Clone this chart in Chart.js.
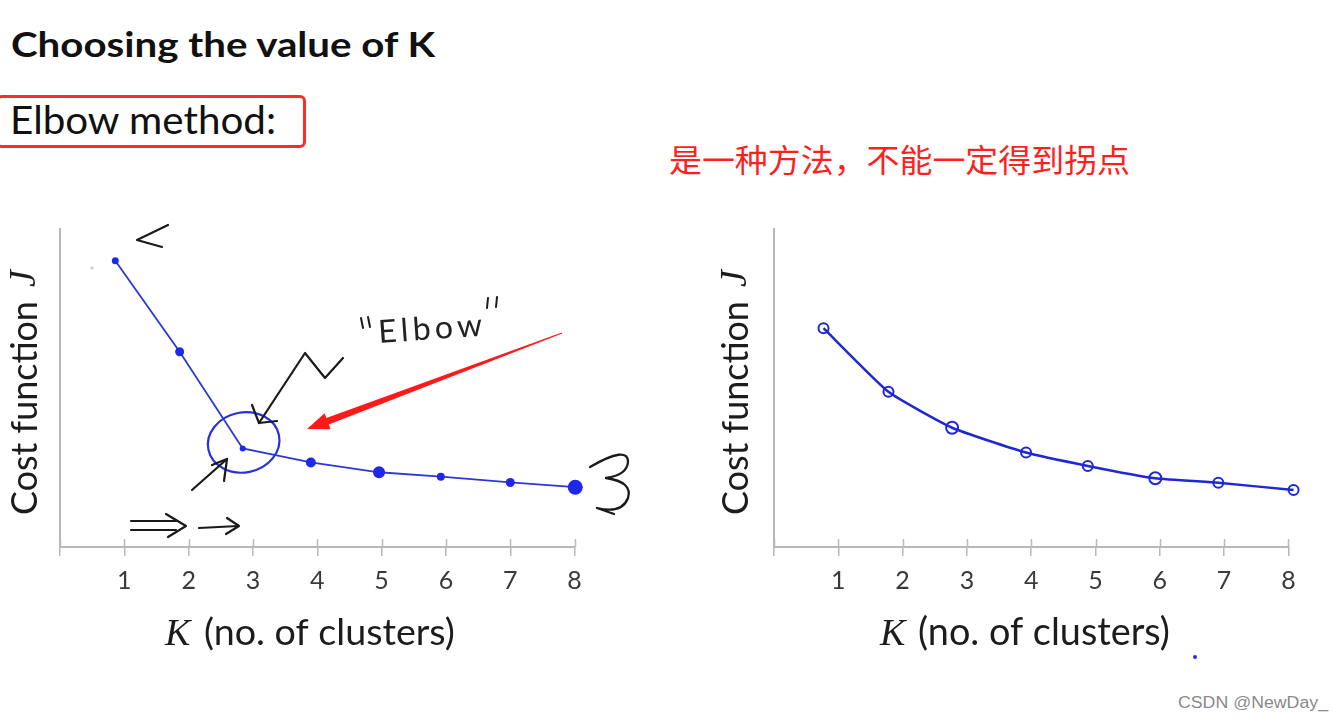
<!DOCTYPE html>
<html><head><meta charset="utf-8">
<script src="https://cdn.jsdelivr.net/npm/chart.js@4.4.1/dist/chart.umd.min.js"></script>
<style>
html,body{margin:0;padding:0;background:#fff;}
body{width:1342px;height:723px;position:relative;overflow:hidden;font-family:Lato,"Open Sans",sans-serif;}
.t{position:absolute;white-space:nowrap;transform-origin:0 0;line-height:1;}
#title{left:11px;top:26px;font-weight:bold;font-size:35px;color:#111;}
#method{left:10px;top:100px;font-size:39px;color:#111;}
#box{position:absolute;left:-4px;top:95px;width:310px;height:53px;border:3px solid #ff2b2b;border-radius:6px;box-sizing:border-box;}
#cn{left:669px;top:142px;font-size:32px;color:#ff1f1f;font-family:"Noto Sans CJK SC",sans-serif;}
#csdn{left:1178px;top:695px;font-size:16px;color:#8a8a8a;font-family:"Liberation Sans",Arial,sans-serif;}
canvas{position:absolute;}
#c1{left:0;top:200px;}
#c2{left:690px;top:200px;}
</style></head>
<body>
<div id="title" class="t" data-w="424">Choosing the value of K</div>
<div id="box"></div>
<div id="method" class="t" data-w="266">Elbow method:</div>
<div id="cn" class="t" data-w="461">是一种方法，不能一定得到拐点</div>
<div id="csdn" class="t" data-w="150">CSDN @NewDay_</div>
<canvas id="c1" width="670" height="470"></canvas>
<canvas id="c2" width="652" height="470"></canvas>
<script>
// ---- data ----
const kTickLabels = ['1','2','3','4','5','6','7','8'];
const leftK  = [0.86, 1.86, 2.84, 3.90, 4.96, 5.92, 7.00, 8.01];
const leftJ  = [90.0, 61.4, 31.0, 26.6, 23.5, 22.1, 20.3, 18.8];
const rightK = [0.77, 1.78, 2.77, 3.92, 4.88, 5.93, 6.91, 8.08];
const rightJ = [68.8, 48.8, 37.5, 29.7, 25.5, 21.6, 20.2, 17.9];
const xAxisTitleVar = 'K';
const xAxisTitleText = '(no. of clusters)';
const yAxisTitleText = 'Cost function';
const yAxisTitleVar = 'J';

// fit page texts
document.querySelectorAll('.t').forEach(el=>{
  const w = el.getBoundingClientRect().width;
  const target = +el.dataset.w;
  el.style.transform = 'scaleX(' + (target / w) + ')';
});

Chart.defaults.font.family = 'Lato, "Open Sans", sans-serif';
const AXIS = '#b8b8b8';
const SANS = 'Lato, "Open Sans", sans-serif';
const SERIF = '"Liberation Serif", "DejaVu Serif", serif';

function fitFont(ctx, text, target, style, family, base){
  ctx.font = style + ' ' + base + 'px ' + family;
  const w = ctx.measureText(text).width;
  const s = base * target / w;
  ctx.font = style + ' ' + s + 'px ' + family;
  return s;
}

function axisPlugin(o){
  return {
    id: 'axisExtras',
    afterDraw(chart){
      const ctx = chart.ctx, xs = chart.scales.x, ca = chart.chartArea;
      ctx.save();
      ctx.strokeStyle = AXIS; ctx.lineWidth = 1.5;
      for (let v = 0; v <= 8; v++){
        const px = Math.round(xs.getPixelForValue(v)) + 0.5;
        ctx.beginPath(); ctx.moveTo(px, ca.bottom - 8); ctx.lineTo(px, ca.bottom); ctx.stroke();
      }
      // x axis title
      ctx.fillStyle = '#1c1c1c'; ctx.textBaseline = 'alphabetic'; ctx.textAlign = 'left';
      ctx.font = 'italic 38px ' + SERIF;
      ctx.fillText(xAxisTitleVar, o.kx, o.titleY);
      fitFont(ctx, xAxisTitleText, o.pw, '', SANS, 33);
      ctx.fillText(xAxisTitleText, o.px, o.titleY);
      // y axis title (rotated)
      ctx.translate(o.yBase, o.yStart);
      ctx.rotate(-Math.PI/2);
      fitFont(ctx, yAxisTitleText, 214, '', SANS, 36);
      ctx.fillText(yAxisTitleText, 0, 0);
      ctx.font = 'italic 38px ' + SERIF;
      ctx.fillText(yAxisTitleVar, 228, -2);
      ctx.restore();
    }
  };
}

function stroke(ctx, pts, w, col){
  ctx.save();
  ctx.strokeStyle = col || '#1a1a1a'; ctx.lineWidth = w || 2.2;
  ctx.lineCap = 'round'; ctx.lineJoin = 'round';
  ctx.beginPath(); ctx.moveTo(pts[0][0], pts[0][1] - 200);
  for (let i = 1; i < pts.length; i++) ctx.lineTo(pts[i][0], pts[i][1] - 200);
  ctx.stroke(); ctx.restore();
}

const leftAnnot = {
  id: 'leftAnnot',
  afterDatasetsDraw(chart){
    const ctx = chart.ctx;
    const p3 = chart.getDatasetMeta(0).data[2];
    ctx.save();
    // blue circle around elbow
    ctx.strokeStyle = 'rgb(40,50,220)'; ctx.lineWidth = 2.2;
    ctx.beginPath(); ctx.ellipse(p3.x + 1, p3.y - 6, 36, 30, -0.2, 0, Math.PI*2); ctx.stroke();
    // red arrow
    const T = [562, 333 - 200], H = [307, 429 - 200];
    const dx = H[0]-T[0], dy = H[1]-T[1], L = Math.hypot(dx, dy);
    const ux = dx/L, uy = dy/L, nx = -uy, ny = ux;
    const hb = L - 22;
    const P = (a, b) => [T[0] + ux*a + nx*b, T[1] + uy*a + ny*b];
    const poly = [P(0,0.6), P(hb,3.4), P(hb,8.5), P(L,0), P(hb,-8.5), P(hb,-3.4), P(0,-0.6)];
    ctx.fillStyle = '#ff1a1a';
    ctx.beginPath(); ctx.moveTo(poly[0][0], poly[0][1]);
    poly.slice(1).forEach(q => ctx.lineTo(q[0], q[1])); ctx.closePath(); ctx.fill();
    ctx.restore();
    // black hand-drawn strokes
    stroke(ctx, [[343,358],[325,378],[305,353],[259,423]]);
    stroke(ctx, [[252,405],[259,423],[277,421]]);
    stroke(ctx, [[192,490],[227,459]]);
    stroke(ctx, [[212,465],[227,459],[224,481]]);
    stroke(ctx, [[168,225],[137,240],[162,247]]);
    stroke(ctx, [[131,521],[176,521]]);
    stroke(ctx, [[131,530],[176,530]]);
    stroke(ctx, [[166,514],[186,526],[168,537]]);
    stroke(ctx, [[199,528],[238,526]]);
    stroke(ctx, [[227,518],[239,526],[226,534]]);
    // sideways omega
    ctx.save();
    ctx.strokeStyle = '#1a1a1a'; ctx.lineWidth = 2.3; ctx.lineCap = 'round'; ctx.lineJoin='round';
    ctx.beginPath();
    ctx.moveTo(590, 467-200);
    ctx.quadraticCurveTo(628, 445-200, 628, 462-200);
    ctx.quadraticCurveTo(627, 475-200, 606, 478-200);
    ctx.quadraticCurveTo(633, 482-200, 628, 498-200);
    ctx.quadraticCurveTo(622, 514-200, 597, 508-200);
    ctx.lineTo(614, 514-200);
    ctx.stroke();
    ctx.restore();
    // "Elbow" handwriting
    ctx.save();
    ctx.fillStyle = '#222';
    ctx.translate(379, 343 - 200); ctx.rotate(-0.07);
    ctx.font = '32px ' + SANS;
    const w0 = ctx.measureText('Elbow').width;
    ctx.letterSpacing = Math.max(0, (104 - w0) / 4).toFixed(1) + 'px';
    ctx.fillText('Elbow', 0, 0);
    ctx.restore();
    stroke(ctx, [[361,318],[363,328]], 2);
    stroke(ctx, [[368,317],[370,327]], 2);
    stroke(ctx, [[488,298],[487,308]], 2);
    stroke(ctx, [[497,297],[496,307]], 2);
    // stray dot
    ctx.save(); ctx.fillStyle = '#c8c8c8';
    ctx.beginPath(); ctx.arc(92, 268-200, 1.5, 0, Math.PI*2); ctx.fill(); ctx.restore();
  }
};

const rightAnnot = {
  id: 'rightAnnot',
  afterDatasetsDraw(chart){
    const ctx = chart.ctx;
    ctx.save(); ctx.fillStyle = 'rgb(40,50,200)';
    ctx.beginPath(); ctx.arc(1195-690, 657-200, 2, 0, Math.PI*2); ctx.fill(); ctx.restore();
  }
};

function makeOptions(padRight, yWidth){
  return {
    responsive: false, animation: false, devicePixelRatio: 1,
    layout: { padding: { top: 29, right: padRight, left: 0, bottom: 0 } },
    plugins: { legend: { display: false }, tooltip: { enabled: false } },
    scales: {
      x: {
        type: 'linear', min: 0, max: 8,
        ticks: { stepSize: 1, autoSkip: false, maxRotation: 0, padding: 10,
                 color: '#3a3a3a', font: { size: 25 },
                 callback: v => (v >= 1 && v <= 8) ? kTickLabels[v-1] : '' },
        grid: { drawOnChartArea: false, drawTicks: true, tickLength: 9, color: AXIS, lineWidth: 1.5 },
        border: { color: AXIS, width: 2 },
        afterFit: s => { s.height = 123; }
      },
      y: {
        min: 0, max: 100,
        ticks: { display: false },
        grid: { display: false },
        border: { color: AXIS, width: 2 },
        afterFit: s => { s.width = yWidth; }
      }
    }
  };
}

new Chart(document.getElementById('c1'), {
  type: 'line',
  data: { datasets: [{
    data: leftK.map((k, i) => ({ x: k, y: leftJ[i] })),
    borderColor: 'rgb(45,55,215)', borderWidth: 1.8, tension: 0,
    pointRadius: [3.5, 4.5, 3, 5, 6, 4, 4.5, 7.5],
    pointBackgroundColor: 'rgb(30,40,235)', pointBorderWidth: 0,
    clip: false
  }]},
  options: makeOptions(670 - 574.6, 60),
  plugins: [axisPlugin({ kx: 165, px: 204, pw: 251, titleY: 445, yBase: 37, yStart: 315 }), leftAnnot]
});

new Chart(document.getElementById('c2'), {
  type: 'line',
  data: { datasets: [{
    data: rightK.map((k, i) => ({ x: k, y: rightJ[i] })),
    borderColor: 'rgb(30,40,215)', borderWidth: 2.5, tension: 0.15,
    pointRadius: [5, 5, 6, 5, 5, 6, 5, 5],
    pointBackgroundColor: 'rgba(255,255,255,0)', pointBorderColor: 'rgb(30,40,215)', pointBorderWidth: 2,
    clip: false
  }]},
  options: makeOptions(652 - 598.4, 84),
  plugins: [axisPlugin({ kx: 190, px: 228, pw: 252, titleY: 445, yBase: 58, yStart: 315 }), rightAnnot]
});
</script>
</body></html>
